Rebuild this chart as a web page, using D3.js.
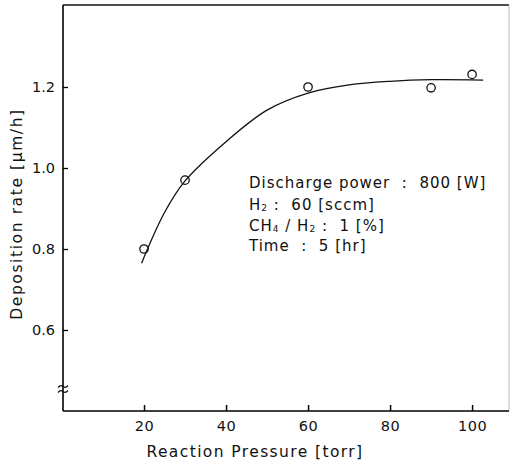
<!DOCTYPE html>
<html><head><meta charset="utf-8">
<script src="https://cdn.jsdelivr.net/npm/d3@7"></script>
<style>body{margin:0;background:#fff}svg{display:block}text{font-family:"DejaVu Sans",sans-serif;fill:#111;white-space:pre}</style>
</head><body>
<svg id="c" width="510" height="463"></svg>
<script>
// Measured points
const pressure = [20, 30, 60, 90, 100];
const rate = [0.80, 0.97, 1.20, 1.198, 1.231];
// Hand-drawn fitted curve
const fitPressure = [19.4, 25, 30, 40, 50, 60, 70, 80, 90, 102.7];
const fitRate = [0.765, 0.89, 0.968, 1.065, 1.143, 1.185, 1.205, 1.214, 1.218, 1.217];
const xTicks = [20, 40, 60, 80, 100];
const yTicks = [0.6, 0.8, 1.0, 1.2];
const infoLines = [
  [["Discharge power  :  800 [W]", 0]],
  [["H", 0], ["2", 1], " :  60 [sccm]"],
  [["CH", 0], ["4", 1], [" / H", 0], ["2", 1], [" :  1 [%]", 0]],
  [["Time  :  5 [hr]", 0]]
].map(l => l.map(p => Array.isArray(p) ? p : [p, 0]));

const svg = d3.select("#c");
const L = 63, R = 509, T = 5, B = 411;
const x = d3.scaleLinear().domain([0, 109]).range([62, 509]);
const y = d3.scaleLinear().domain([0.4, 1.4]).range([411, 6]);

// frame
svg.append("line").attr("x1", L).attr("x2", R).attr("y1", T).attr("y2", T).attr("stroke", "#111").attr("stroke-width", 1.5);
svg.append("line").attr("x1", R).attr("x2", R).attr("y1", T).attr("y2", B).attr("stroke", "#bbb").attr("stroke-width", 1);

// axes
const xAxis = d3.axisBottom(x).tickValues(xTicks).tickSize(-6).tickPadding(10).tickFormat(d3.format("d"));
const gx = svg.append("g").attr("transform", `translate(0,${B})`).call(xAxis);
gx.select(".domain").attr("d", `M${L},0H${R}`).attr("stroke-width", 1.6);
gx.selectAll(".tick line").attr("stroke-width", 1.5);
gx.selectAll("text").attr("font-size", 14.5).attr("letter-spacing", 0.5).attr("fill", "#111");

const yAxis = d3.axisLeft(y).tickValues(yTicks).tickSize(-5).tickPadding(8).tickFormat(d3.format(".1f"));
const gy = svg.append("g").attr("transform", `translate(${L},0)`).call(yAxis);
gy.select(".domain").attr("d", `M0,${T}V${B}`).attr("stroke-width", 1.6);
gy.selectAll(".tick line").attr("stroke-width", 1.3);
gy.selectAll("text").attr("font-size", 14.5).attr("fill", "#111");

// axis break mark
const by = 389;
[-2.5, 2.5].forEach(o => {
  svg.append("path")
    .attr("d", `M${L-5},${by+o+1} q2.5,-3 5,-1 q2.5,2 5,-1`)
    .attr("fill", "none").attr("stroke", "#111").attr("stroke-width", 1.2);
});

// curve
const line = d3.line().x((d, i) => x(fitPressure[i])).y(d => y(d)).curve(d3.curveCatmullRom.alpha(0.5));
svg.append("path").datum(fitRate).attr("d", line).attr("fill", "none").attr("stroke", "#111").attr("stroke-width", 1.3);

// markers
svg.selectAll("circle.pt").data(pressure).enter().append("circle")
  .attr("cx", d => x(d)).attr("cy", (d, i) => y(rate[i])).attr("r", 4.2)
  .attr("fill", "none").attr("stroke", "#111").attr("stroke-width", 1.3);

// info text
const info = svg.append("text").attr("font-size", 15).attr("letter-spacing", 1.0);
const baselines = [188, 210, 231, 251];
infoLines.forEach((parts, li) => {
  parts.forEach(([t, sub], pi) => {
    const ts = info.append("tspan").text(t);
    if (pi === 0) ts.attr("x", 249).attr("y", baselines[li]);
    if (sub) ts.attr("font-size", 9).attr("dy", 1);
    else if (pi > 0 && parts[pi - 1][1]) ts.attr("dy", -1);
  });
});

// axis titles
svg.append("text").attr("x", 255).attr("y", 457).attr("text-anchor", "middle").attr("font-size", 15.5).attr("letter-spacing", 1.4).text("Reaction Pressure [torr]");
svg.append("text").attr("transform", "translate(22,214) rotate(-90)").attr("text-anchor", "middle").attr("font-size", 15.5).attr("letter-spacing", 1.6).text("Deposition rate [μm/h]");
</script>
</body></html>
